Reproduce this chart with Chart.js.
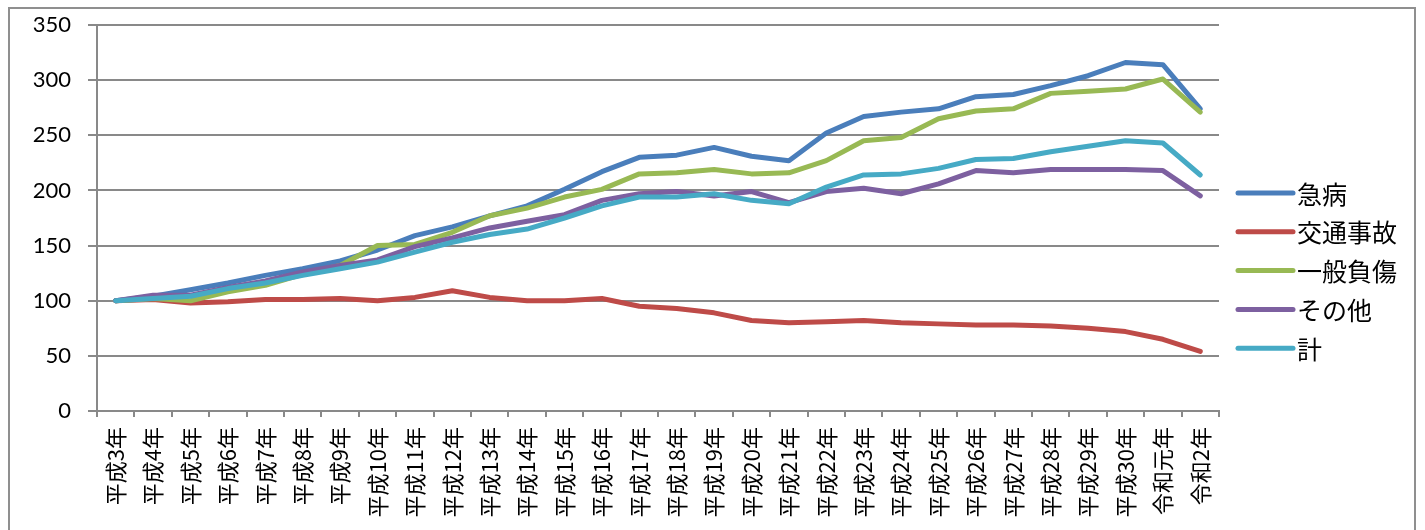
<!DOCTYPE html>
<html lang="ja">
<head>
    <meta charset="UTF-8">
    <title>救急出動件数の推移（指数）</title>
    <script src="https://cdn.jsdelivr.net/npm/chart.js"></script>
    <style>
        body {
            margin: 0;
            padding: 0;
            background: #ffffff;
        }
        .wrap {
            position: relative;
            width: 1425px;
            height: 530px;
            overflow: hidden;
        }
        .frame {
            position: absolute;
            left: 8px;
            top: 7px;
            width: 1404px;
            height: 600px;
            border: 2px solid #8f8f8f;
            pointer-events: none;
        }
    </style>
</head>
<body>
    <div class="wrap">
        <canvas id="grafico" width="1425" height="530"></canvas>
        <div class="frame"></div>
    </div>

    <script>
        // 年度（平成3年 = 100 とした指数）
        const years = [
            "平成3年", "平成4年", "平成5年", "平成6年", "平成7年", "平成8年", "平成9年",
            "平成10年", "平成11年", "平成12年", "平成13年", "平成14年", "平成15年", "平成16年",
            "平成17年", "平成18年", "平成19年", "平成20年", "平成21年", "平成22年", "平成23年",
            "平成24年", "平成25年", "平成26年", "平成27年", "平成28年", "平成29年", "平成30年",
            "令和元年", "令和2年"
        ];

        const kyubyo = [100, 104, 110, 116, 123, 129, 136, 146, 159, 167, 177, 186, 201, 217, 230,
            232, 239, 231, 227, 252, 267, 271, 274, 285, 287, 295, 304, 316, 314, 274];
        const koutsu = [100, 101, 98, 99, 101, 101, 102, 100, 103, 109, 103, 100, 100, 102, 95,
            93, 89, 82, 80, 81, 82, 80, 79, 78, 78, 77, 75, 72, 65, 54];
        const ippan = [100, 102, 100, 108, 114, 124, 132, 150, 151, 162, 177, 184, 194, 201, 215,
            216, 219, 215, 216, 227, 245, 248, 265, 272, 274, 288, 290, 292, 301, 271];
        const sonota = [100, 105, 105, 112, 118, 126, 132, 137, 149, 157, 166, 172, 178, 191, 197,
            199, 195, 199, 189, 199, 202, 197, 206, 218, 216, 219, 219, 219, 218, 195];
        const kei = [100, 102, 104, 111, 116, 123, 129, 135, 144, 153, 160, 165, 175, 186, 194,
            194, 197, 191, 188, 203, 214, 215, 220, 228, 229, 235, 240, 245, 243, 214];

        const yTicks = [0, 50, 100, 150, 200, 250, 300, 350];

        const gridColor = "#898989";
        const jpFont = "'Noto Sans CJK JP', sans-serif";

        function serie(label, data, color, order) {
            return {
                label: label,
                data: data,
                borderColor: color,
                backgroundColor: color,
                borderWidth: 5,
                pointRadius: 0,
                tension: 0,
                borderJoinStyle: "round",
                borderCapStyle: "round",
                fill: false,
                order: order
            };
        }

        // 凡例（右側、線＋ラベル）
        const sideLegend = {
            id: "sideLegend",
            afterDraw(chart) {
                const c = chart.ctx;
                const x0 = chart.chartArea.right + 19;
                const lineLen = 55;
                const step = 38.8;
                const y0 = 193;
                c.save();
                c.font = "25px " + jpFont;
                c.textBaseline = "middle";
                c.textAlign = "left";
                chart.data.datasets.forEach((ds, i) => {
                    const y = y0 + i * step;
                    c.strokeStyle = ds.borderColor;
                    c.lineWidth = 5;
                    c.lineCap = "round";
                    c.beginPath();
                    c.moveTo(x0, y);
                    c.lineTo(x0 + lineLen, y);
                    c.stroke();
                    c.fillStyle = "#000000";
                    c.fillText(ds.label, x0 + lineLen + 4, y + 1);
                });
                c.restore();
            }
        };

        const ctx = document.getElementById("grafico").getContext("2d");
        new Chart(ctx, {
            type: "line",
            data: {
                labels: years,
                datasets: [
                    serie("急病", kyubyo, "#4a7ebb", 4),
                    serie("交通事故", koutsu, "#be4b48", 3),
                    serie("一般負傷", ippan, "#98b954", 2),
                    serie("その他", sonota, "#7d60a0", 1),
                    serie("計", kei, "#46aac5", 0)
                ]
            },
            options: {
                responsive: false,
                animation: false,
                layout: {
                    padding: { top: 25, right: 206, bottom: 10, left: 0 }
                },
                plugins: {
                    tooltip: { enabled: false },
                    legend: { display: false }
                },
                scales: {
                    x: {
                        offset: true,
                        grid: {
                            offset: true,
                            drawOnChartArea: false,
                            drawTicks: true,
                            tickLength: 6,
                            color: gridColor,
                            lineWidth: 2
                        },
                        border: { color: gridColor, width: 2 },
                        ticks: {
                            autoSkip: false,
                            maxRotation: 90,
                            minRotation: 90,
                            padding: 10,
                            color: "#000000",
                            font: { family: jpFont, size: 22 }
                        },
                        afterFit: function (scale) {
                            scale.height = 109;
                            scale.paddingLeft = 0;
                            scale.paddingRight = 0;
                        }
                    },
                    y: {
                        min: 0,
                        max: 350,
                        afterBuildTicks: function (scale) {
                            scale.ticks = yTicks.map(v => ({ value: v }));
                        },
                        grid: {
                            color: gridColor,
                            lineWidth: 2,
                            drawTicks: true,
                            tickLength: 9
                        },
                        border: { color: gridColor, width: 2 },
                        ticks: {
                            padding: 17,
                            color: "#000000",
                            font: { family: "Lato, sans-serif", size: 22 }
                        },
                        afterFit: function (scale) {
                            scale.width = 97;
                            scale.paddingTop = 0;
                            scale.paddingBottom = 0;
                        }
                    }
                }
            },
            plugins: [sideLegend]
        });
    </script>
</body>
</html>
